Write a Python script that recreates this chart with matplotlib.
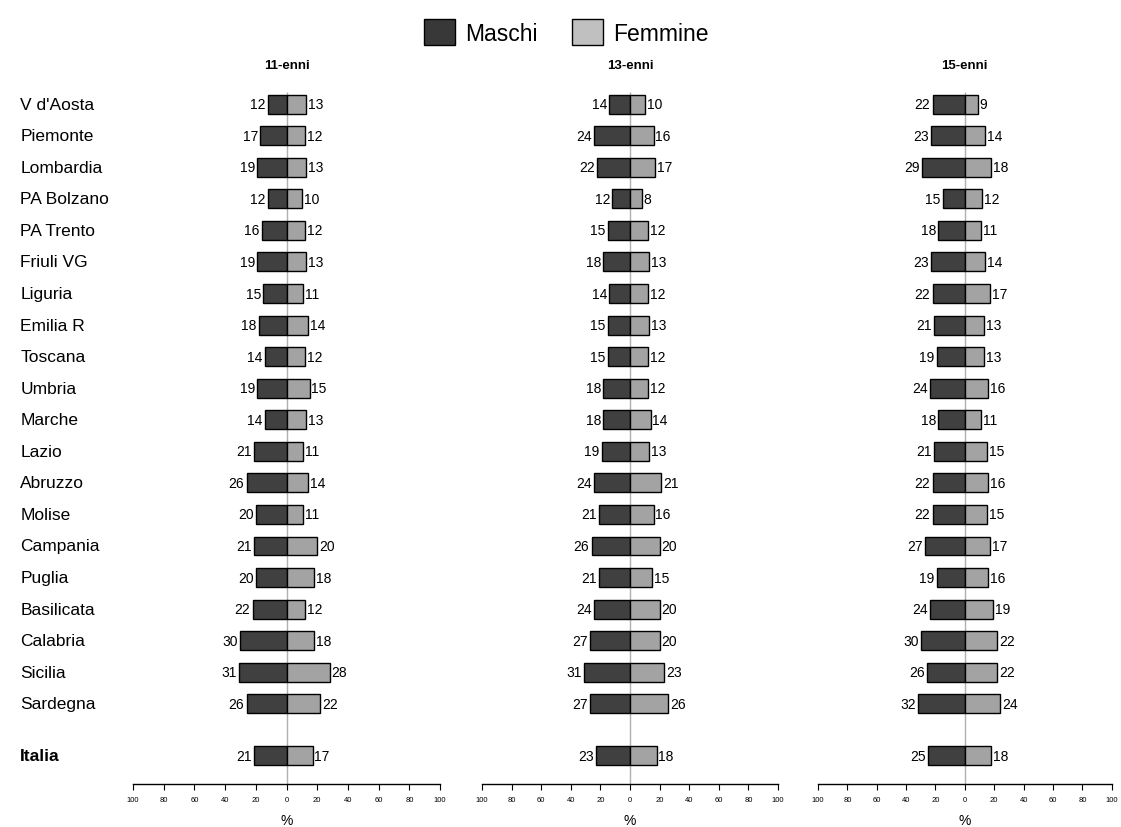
import numpy as np
import matplotlib
matplotlib.use("Agg")
import matplotlib.pyplot as plt
from matplotlib.patches import Patch
import matplotlib.transforms as mtransforms

plt.rcParams['font.family'] = ['Liberation Sans', 'DejaVu Sans']

regions = ["V d'Aosta", "Piemonte", "Lombardia", "PA Bolzano", "PA Trento", "Friuli VG",
           "Liguria", "Emilia R", "Toscana", "Umbria", "Marche", "Lazio", "Abruzzo",
           "Molise", "Campania", "Puglia", "Basilicata", "Calabria", "Sicilia", "Sardegna",
           "Italia"]

panels = ["11-enni", "13-enni", "15-enni"]

maschi_11 = [12, 17, 19, 12, 16, 19, 15, 18, 14, 19, 14, 21, 26, 20, 21, 20, 22, 30, 31, 26, 21]
femmine_11 = [13, 12, 13, 10, 12, 13, 11, 14, 12, 15, 13, 11, 14, 11, 20, 18, 12, 18, 28, 22, 17]
maschi_13 = [14, 24, 22, 12, 15, 18, 14, 15, 15, 18, 18, 19, 24, 21, 26, 21, 24, 27, 31, 27, 23]
femmine_13 = [10, 16, 17, 8, 12, 13, 12, 13, 12, 12, 14, 13, 21, 16, 20, 15, 20, 20, 23, 26, 18]
maschi_15 = [22, 23, 29, 15, 18, 23, 22, 21, 19, 24, 18, 21, 22, 22, 27, 19, 24, 30, 26, 32, 25]
femmine_15 = [9, 14, 18, 12, 11, 14, 17, 13, 13, 16, 11, 15, 16, 15, 17, 16, 19, 22, 22, 24, 18]

ticks = [-100, -80, -60, -40, -20, 0, 20, 40, 60, 80, 100]

c_m = '#404040'
c_f = '#a3a3a3'

# row positions: Italia separated by a gap
ypos = np.arange(len(regions), dtype=float)
ypos[-1] = 20.65

fig = plt.figure(figsize=(11.21, 8.28), dpi=100)
lefts = [0.1186, 0.430, 0.7297]
widths = [0.274, 0.264, 0.262]
data = [(maschi_11, femmine_11), (maschi_13, femmine_13), (maschi_15, femmine_15)]

axes = []
for i, (m, f) in enumerate(data):
    ax = fig.add_axes([lefts[i], 0.052, widths[i], 0.845])
    axes.append(ax)
    ax.vlines(0, -0.4, 21.54, color='#b0b0b0', lw=1, zorder=1)
    ax.barh(ypos, [-v for v in m], height=0.6, color=c_m, edgecolor='black', lw=1, zorder=2)
    ax.barh(ypos, f, height=0.6, color=c_f, edgecolor='black', lw=1, zorder=2)
    for y, vm, vf in zip(ypos, m, f):
        ax.text(-vm - 1.5, y, str(vm), ha='right', va='center', fontsize=10)
        ax.text(vf + 1.2, y, str(vf), ha='left', va='center', fontsize=10)
    ax.set_xlim(-100, 100)
    ax.set_ylim(21.54, -0.63)
    ax.set_xticks(ticks)
    ax.set_xticklabels([str(abs(t)) for t in ticks], fontsize=5.5)
    ax.tick_params(axis='x', length=4, width=0.8, pad=5)
    ax.set_yticks([])
    for s in ['top', 'right', 'left']:
        ax.spines[s].set_visible(False)
    ax.spines['bottom'].set_linewidth(1)
    ax.set_xlabel('%', fontsize=10, labelpad=7)
    ax.set_title(panels[i], fontsize=9.5, fontweight='bold', pad=12)

# region labels on the left
trans = mtransforms.blended_transform_factory(fig.transFigure, axes[0].transData)
for y, name in zip(ypos, regions):
    axes[0].text(0.018, y, name, transform=trans, ha='left', va='center', fontsize=12.5,
                 fontweight='bold' if name == 'Italia' else 'normal')

handles = [Patch(facecolor='#383838', edgecolor='black', label='Maschi'),
           Patch(facecolor='#c0c0c0', edgecolor='black', label='Femmine')]
fig.legend(handles=handles, loc='center', bbox_to_anchor=(0.505, 0.96), ncol=2, frameon=False,
           fontsize=16.5, handlelength=1.35, handleheight=1.35, columnspacing=1.5, handletextpad=0.45)

fig.savefig('out.png', dpi=100)
